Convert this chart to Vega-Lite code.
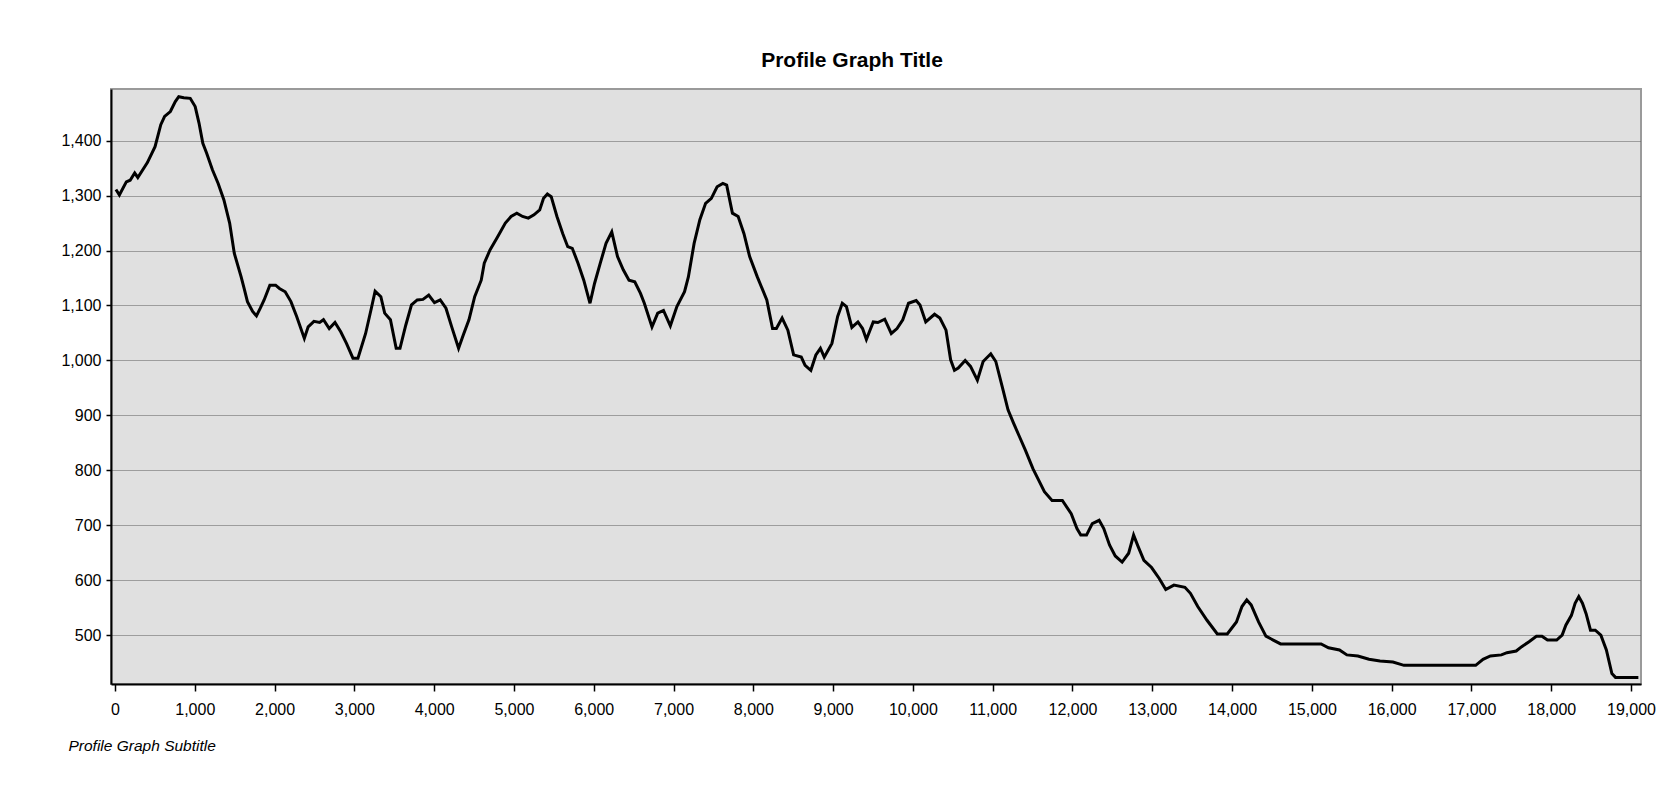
{
  "$schema": "https://vega.github.io/schema/vega-lite/v6.json",
  "width": 1530,
  "height": 595,
  "autosize": {"type": "none"},
  "padding": {"left": 111, "top": 89, "right": 36, "bottom": 103},
  "background": "white",
  "title": {
    "text": "Profile Graph Title",
    "anchor": "middle",
    "dx": -24,
    "dy": 20,
    "offset": 21,
    "baseline": "alphabetic",
    "font": "Liberation Sans, Arial, sans-serif",
    "fontSize": 21,
    "fontWeight": "bold",
    "color": "#000000"
  },
  "config": {
    "view": {"fill": "#E0E0E0", "stroke": "#9a9a9a", "strokeWidth": 2},
    "axis": {
      "labelFont": "Liberation Sans, Arial, sans-serif",
      "titleFont": "Liberation Sans, Arial, sans-serif",
      "labelColor": "#000000",
      "titleColor": "#000000"
    }
  },
  "data": {
    "values": [
      {"distance": 12, "elevation": 1311},
      {"distance": 55, "elevation": 1301},
      {"distance": 142, "elevation": 1325},
      {"distance": 190, "elevation": 1328},
      {"distance": 247, "elevation": 1341},
      {"distance": 286, "elevation": 1333},
      {"distance": 406, "elevation": 1360},
      {"distance": 502, "elevation": 1389},
      {"distance": 574, "elevation": 1429},
      {"distance": 622, "elevation": 1444},
      {"distance": 694, "elevation": 1453},
      {"distance": 756, "elevation": 1471},
      {"distance": 799, "elevation": 1480},
      {"distance": 862, "elevation": 1478},
      {"distance": 943, "elevation": 1477},
      {"distance": 1005, "elevation": 1462},
      {"distance": 1053, "elevation": 1432},
      {"distance": 1101, "elevation": 1395},
      {"distance": 1149, "elevation": 1377},
      {"distance": 1221, "elevation": 1347},
      {"distance": 1293, "elevation": 1322},
      {"distance": 1365, "elevation": 1292},
      {"distance": 1437, "elevation": 1250},
      {"distance": 1495, "elevation": 1195},
      {"distance": 1581, "elevation": 1152},
      {"distance": 1620, "elevation": 1130},
      {"distance": 1660, "elevation": 1107},
      {"distance": 1725, "elevation": 1089},
      {"distance": 1773, "elevation": 1081},
      {"distance": 1821, "elevation": 1095},
      {"distance": 1869, "elevation": 1110},
      {"distance": 1941, "elevation": 1137},
      {"distance": 2013, "elevation": 1137},
      {"distance": 2061, "elevation": 1131},
      {"distance": 2133, "elevation": 1125},
      {"distance": 2205, "elevation": 1107},
      {"distance": 2277, "elevation": 1080},
      {"distance": 2373, "elevation": 1040},
      {"distance": 2421, "elevation": 1061},
      {"distance": 2493, "elevation": 1071},
      {"distance": 2565, "elevation": 1069},
      {"distance": 2613, "elevation": 1074},
      {"distance": 2685, "elevation": 1058},
      {"distance": 2757, "elevation": 1069},
      {"distance": 2829, "elevation": 1052},
      {"distance": 2901, "elevation": 1031},
      {"distance": 2982, "elevation": 1004},
      {"distance": 3045, "elevation": 1004},
      {"distance": 3141, "elevation": 1049},
      {"distance": 3213, "elevation": 1095},
      {"distance": 3260, "elevation": 1126},
      {"distance": 3332, "elevation": 1116},
      {"distance": 3380, "elevation": 1086},
      {"distance": 3452, "elevation": 1074},
      {"distance": 3524, "elevation": 1022},
      {"distance": 3572, "elevation": 1022},
      {"distance": 3644, "elevation": 1064},
      {"distance": 3716, "elevation": 1101},
      {"distance": 3788, "elevation": 1110},
      {"distance": 3860, "elevation": 1111},
      {"distance": 3932, "elevation": 1119},
      {"distance": 4004, "elevation": 1105},
      {"distance": 4076, "elevation": 1110},
      {"distance": 4148, "elevation": 1095},
      {"distance": 4220, "elevation": 1061},
      {"distance": 4306, "elevation": 1022},
      {"distance": 4364, "elevation": 1046},
      {"distance": 4436, "elevation": 1074},
      {"distance": 4508, "elevation": 1116},
      {"distance": 4590, "elevation": 1146},
      {"distance": 4628, "elevation": 1177},
      {"distance": 4700, "elevation": 1201},
      {"distance": 4796, "elevation": 1225},
      {"distance": 4892, "elevation": 1250},
      {"distance": 4964, "elevation": 1262},
      {"distance": 5036, "elevation": 1268},
      {"distance": 5108, "elevation": 1262},
      {"distance": 5180, "elevation": 1259},
      {"distance": 5251, "elevation": 1265},
      {"distance": 5323, "elevation": 1274},
      {"distance": 5371, "elevation": 1295},
      {"distance": 5419, "elevation": 1303},
      {"distance": 5467, "elevation": 1298},
      {"distance": 5539, "elevation": 1262},
      {"distance": 5611, "elevation": 1231},
      {"distance": 5674, "elevation": 1207},
      {"distance": 5731, "elevation": 1204},
      {"distance": 5803, "elevation": 1177},
      {"distance": 5875, "elevation": 1146},
      {"distance": 5953, "elevation": 1104},
      {"distance": 6010, "elevation": 1140},
      {"distance": 6082, "elevation": 1177},
      {"distance": 6154, "elevation": 1213},
      {"distance": 6226, "elevation": 1234},
      {"distance": 6298, "elevation": 1189},
      {"distance": 6370, "elevation": 1165},
      {"distance": 6442, "elevation": 1146},
      {"distance": 6514, "elevation": 1143},
      {"distance": 6586, "elevation": 1122},
      {"distance": 6634, "elevation": 1104},
      {"distance": 6730, "elevation": 1061},
      {"distance": 6802, "elevation": 1086},
      {"distance": 6874, "elevation": 1091},
      {"distance": 6960, "elevation": 1063},
      {"distance": 7042, "elevation": 1098},
      {"distance": 7138, "elevation": 1125},
      {"distance": 7186, "elevation": 1152},
      {"distance": 7258, "elevation": 1213},
      {"distance": 7330, "elevation": 1256},
      {"distance": 7402, "elevation": 1286},
      {"distance": 7474, "elevation": 1295},
      {"distance": 7546, "elevation": 1316},
      {"distance": 7618, "elevation": 1322},
      {"distance": 7666, "elevation": 1319},
      {"distance": 7738, "elevation": 1268},
      {"distance": 7810, "elevation": 1262},
      {"distance": 7882, "elevation": 1231},
      {"distance": 7954, "elevation": 1189},
      {"distance": 8050, "elevation": 1152},
      {"distance": 8169, "elevation": 1110},
      {"distance": 8241, "elevation": 1058},
      {"distance": 8289, "elevation": 1058},
      {"distance": 8361, "elevation": 1077},
      {"distance": 8433, "elevation": 1055},
      {"distance": 8505, "elevation": 1010},
      {"distance": 8601, "elevation": 1006},
      {"distance": 8649, "elevation": 991},
      {"distance": 8721, "elevation": 982},
      {"distance": 8784, "elevation": 1010},
      {"distance": 8841, "elevation": 1022},
      {"distance": 8889, "elevation": 1006},
      {"distance": 8985, "elevation": 1031},
      {"distance": 9057, "elevation": 1080},
      {"distance": 9115, "elevation": 1104},
      {"distance": 9167, "elevation": 1098},
      {"distance": 9235, "elevation": 1060},
      {"distance": 9311, "elevation": 1070},
      {"distance": 9369, "elevation": 1058},
      {"distance": 9417, "elevation": 1038},
      {"distance": 9503, "elevation": 1070},
      {"distance": 9561, "elevation": 1069},
      {"distance": 9647, "elevation": 1075},
      {"distance": 9729, "elevation": 1049},
      {"distance": 9801, "elevation": 1058},
      {"distance": 9873, "elevation": 1074},
      {"distance": 9945, "elevation": 1104},
      {"distance": 10041, "elevation": 1109},
      {"distance": 10089, "elevation": 1101},
      {"distance": 10161, "elevation": 1070},
      {"distance": 10271, "elevation": 1084},
      {"distance": 10338, "elevation": 1077},
      {"distance": 10415, "elevation": 1055},
      {"distance": 10473, "elevation": 1001},
      {"distance": 10521, "elevation": 982},
      {"distance": 10568, "elevation": 986},
      {"distance": 10655, "elevation": 1000},
      {"distance": 10722, "elevation": 989},
      {"distance": 10808, "elevation": 964},
      {"distance": 10880, "elevation": 998},
      {"distance": 10976, "elevation": 1012},
      {"distance": 11039, "elevation": 998},
      {"distance": 11120, "elevation": 952},
      {"distance": 11192, "elevation": 910},
      {"distance": 11264, "elevation": 885},
      {"distance": 11336, "elevation": 861},
      {"distance": 11408, "elevation": 837},
      {"distance": 11504, "elevation": 803},
      {"distance": 11576, "elevation": 782},
      {"distance": 11648, "elevation": 761},
      {"distance": 11744, "elevation": 745},
      {"distance": 11873, "elevation": 745},
      {"distance": 11984, "elevation": 721},
      {"distance": 12056, "elevation": 694},
      {"distance": 12104, "elevation": 682},
      {"distance": 12176, "elevation": 682},
      {"distance": 12248, "elevation": 703},
      {"distance": 12334, "elevation": 709},
      {"distance": 12392, "elevation": 694},
      {"distance": 12464, "elevation": 664},
      {"distance": 12536, "elevation": 644},
      {"distance": 12622, "elevation": 633},
      {"distance": 12704, "elevation": 649},
      {"distance": 12766, "elevation": 682},
      {"distance": 12823, "elevation": 661},
      {"distance": 12895, "elevation": 636},
      {"distance": 12991, "elevation": 623},
      {"distance": 13087, "elevation": 603},
      {"distance": 13169, "elevation": 583},
      {"distance": 13271, "elevation": 591},
      {"distance": 13409, "elevation": 587},
      {"distance": 13478, "elevation": 576},
      {"distance": 13570, "elevation": 552},
      {"distance": 13686, "elevation": 527},
      {"distance": 13815, "elevation": 502},
      {"distance": 13940, "elevation": 502},
      {"distance": 14055, "elevation": 524},
      {"distance": 14124, "elevation": 552},
      {"distance": 14184, "elevation": 564},
      {"distance": 14239, "elevation": 555},
      {"distance": 14332, "elevation": 524},
      {"distance": 14424, "elevation": 498},
      {"distance": 14516, "elevation": 491},
      {"distance": 14608, "elevation": 484},
      {"distance": 15116, "elevation": 484},
      {"distance": 15208, "elevation": 477},
      {"distance": 15346, "elevation": 473},
      {"distance": 15439, "elevation": 464},
      {"distance": 15577, "elevation": 462},
      {"distance": 15716, "elevation": 456},
      {"distance": 15854, "elevation": 453},
      {"distance": 16016, "elevation": 451},
      {"distance": 16154, "elevation": 445},
      {"distance": 17053, "elevation": 445},
      {"distance": 17145, "elevation": 456},
      {"distance": 17238, "elevation": 462},
      {"distance": 17376, "elevation": 464},
      {"distance": 17445, "elevation": 468},
      {"distance": 17561, "elevation": 471},
      {"distance": 17630, "elevation": 479},
      {"distance": 17722, "elevation": 488},
      {"distance": 17814, "elevation": 498},
      {"distance": 17884, "elevation": 498},
      {"distance": 17953, "elevation": 491},
      {"distance": 18068, "elevation": 491},
      {"distance": 18137, "elevation": 500},
      {"distance": 18183, "elevation": 518},
      {"distance": 18253, "elevation": 536},
      {"distance": 18299, "elevation": 558},
      {"distance": 18345, "elevation": 570},
      {"distance": 18391, "elevation": 558},
      {"distance": 18437, "elevation": 539},
      {"distance": 18492, "elevation": 509},
      {"distance": 18552, "elevation": 509},
      {"distance": 18622, "elevation": 500},
      {"distance": 18691, "elevation": 473},
      {"distance": 18760, "elevation": 430},
      {"distance": 18806, "elevation": 423},
      {"distance": 19092, "elevation": 423}
    ]
  },
  "mark": {"type": "line", "color": "#000000", "strokeWidth": 3, "clip": true},
  "encoding": {
    "x": {
      "field": "distance",
      "type": "quantitative",
      "scale": {"domain": [-50, 19125], "nice": false, "zero": false},
      "axis": {
        "values": [0, 1000, 2000, 3000, 4000, 5000, 6000, 7000, 8000, 9000, 10000, 11000, 12000, 13000, 14000, 15000, 16000, 17000, 18000, 19000],
        "format": ",d",
        "grid": false,
        "domainColor": "#000000",
        "domainWidth": 2,
        "tickColor": "#000000",
        "tickWidth": 1.5,
        "tickSize": 7,
        "labelPadding": 10,
        "labelFontSize": 16,
        "labelBaseline": "top",
        "title": "Profile Graph Subtitle",
        "titleFontSize": 15.5,
        "titleFontStyle": "italic",
        "titleFontWeight": "normal",
        "titleAnchor": "start",
        "titleAlign": "left",
        "titleBaseline": "alphabetic",
        "titleX": -43,
        "titleY": 66
      }
    },
    "y": {
      "field": "elevation",
      "type": "quantitative",
      "scale": {"domain": [411, 1494], "nice": false, "zero": false},
      "axis": {
        "values": [500, 600, 700, 800, 900, 1000, 1100, 1200, 1300, 1400],
        "format": ",d",
        "grid": true,
        "gridColor": "#5a5a5a",
        "gridDash": [1, 1],
        "gridWidth": 1,
        "domainColor": "#000000",
        "domainWidth": 2,
        "tickColor": "#000000",
        "tickWidth": 1.5,
        "tickSize": 5,
        "labelPadding": 5,
        "labelFontSize": 16,
        "title": null
      }
    }
  }
}
